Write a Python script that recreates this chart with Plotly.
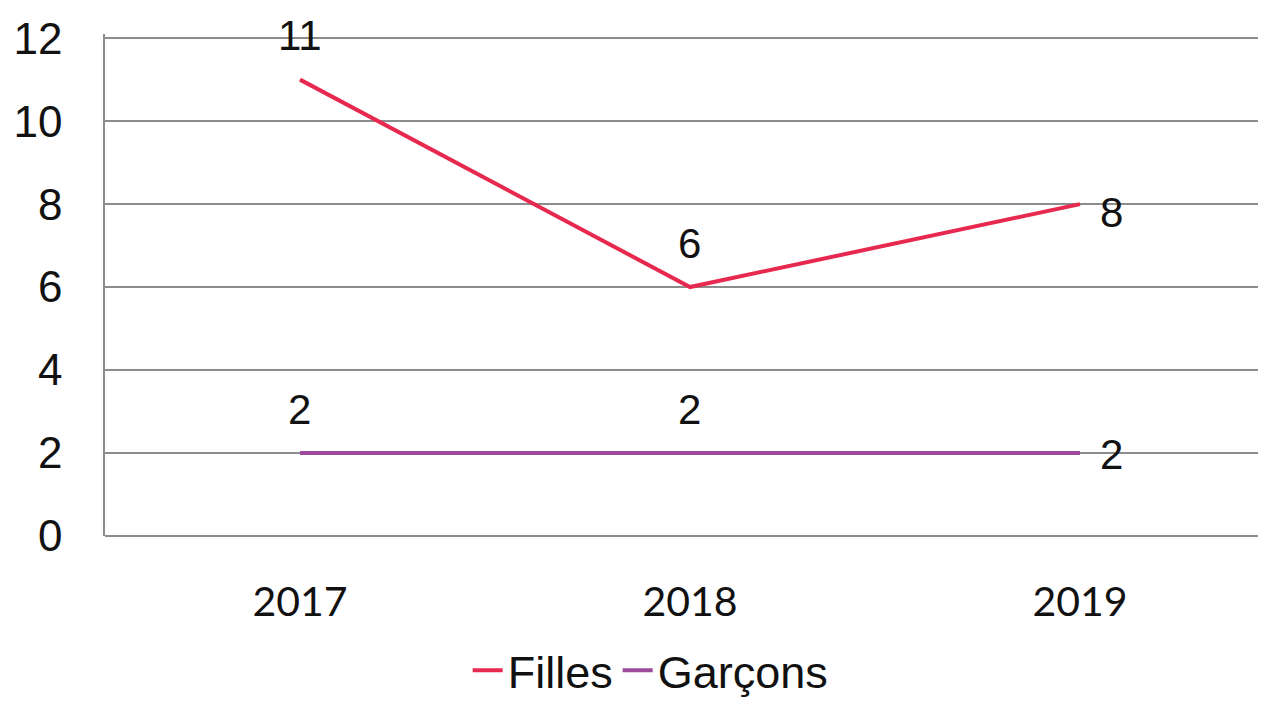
import plotly.graph_objects as go

years = ['2017', '2018', '2019']
filles = [11, 6, 8]
garcons = [2, 2, 2]

# label placement per point (above for the first two, right for the last)
label_xshift = [0, 0, 32]
label_yshift = {'Filles': [44, 44, -8], 'Garçons': [44, 44, -1]}

fig = go.Figure()
fig.add_trace(go.Scatter(
  name='Filles',
  x=years,
  y=filles,
  mode='lines',
  line=dict(color='#E8294F', width=4),
))
fig.add_trace(go.Scatter(
  name='Garçons',
  x=years,
  y=garcons,
  mode='lines',
  line=dict(color='#9E4A9C', width=4),
))

for name, serie in (('Filles', filles), ('Garçons', garcons)):
  for i, v in enumerate(serie):
    fig.add_annotation(
      x=i, y=v, xref='x', yref='y',
      text=str(v), showarrow=False,
      xshift=label_xshift[i], yshift=label_yshift[name][i],
      font=dict(family='Liberation Sans', size=42, color='#111111'),
    )

fig.update_xaxes(
  type='category',
  range=[-0.5, 2.477],
  showgrid=False,
  showline=False,
  automargin=False,
  ticks='',
  ticklabelstandoff=38,
  tickfont=dict(family='Lato', size=41, color='#111111'),
)
fig.update_yaxes(
  range=[0, 12.1],
  tickvals=[0, 2, 4, 6, 8, 10, 12],
  showgrid=True,
  gridcolor='#8c8c8c',
  gridwidth=1.5,
  zeroline=True,
  zerolinecolor='#8c8c8c',
  zerolinewidth=1.5,
  showline=True,
  linecolor='#8c8c8c',
  linewidth=1.5,
  automargin=False,
  ticks='',
  ticklabelstandoff=32,
  tickfont=dict(family='Liberation Sans', size=44, color='#111111'),
)
# page body has an 8px margin, so the figure is drawn 8px smaller
fig.update_layout(
  width=1258,
  height=694,
  margin=dict(l=97, r=0, t=26, b=166, autoexpand=False),
  plot_bgcolor='white',
  paper_bgcolor='white',
  showlegend=True,
  legend=dict(
    orientation='h',
    x=0.47, xanchor='center',
    y=-0.268, yanchor='middle',
    itemwidth=30,
    font=dict(family='Liberation Sans', size=45, color='#111111'),
  ),
)

fig.write_html('out.html')
